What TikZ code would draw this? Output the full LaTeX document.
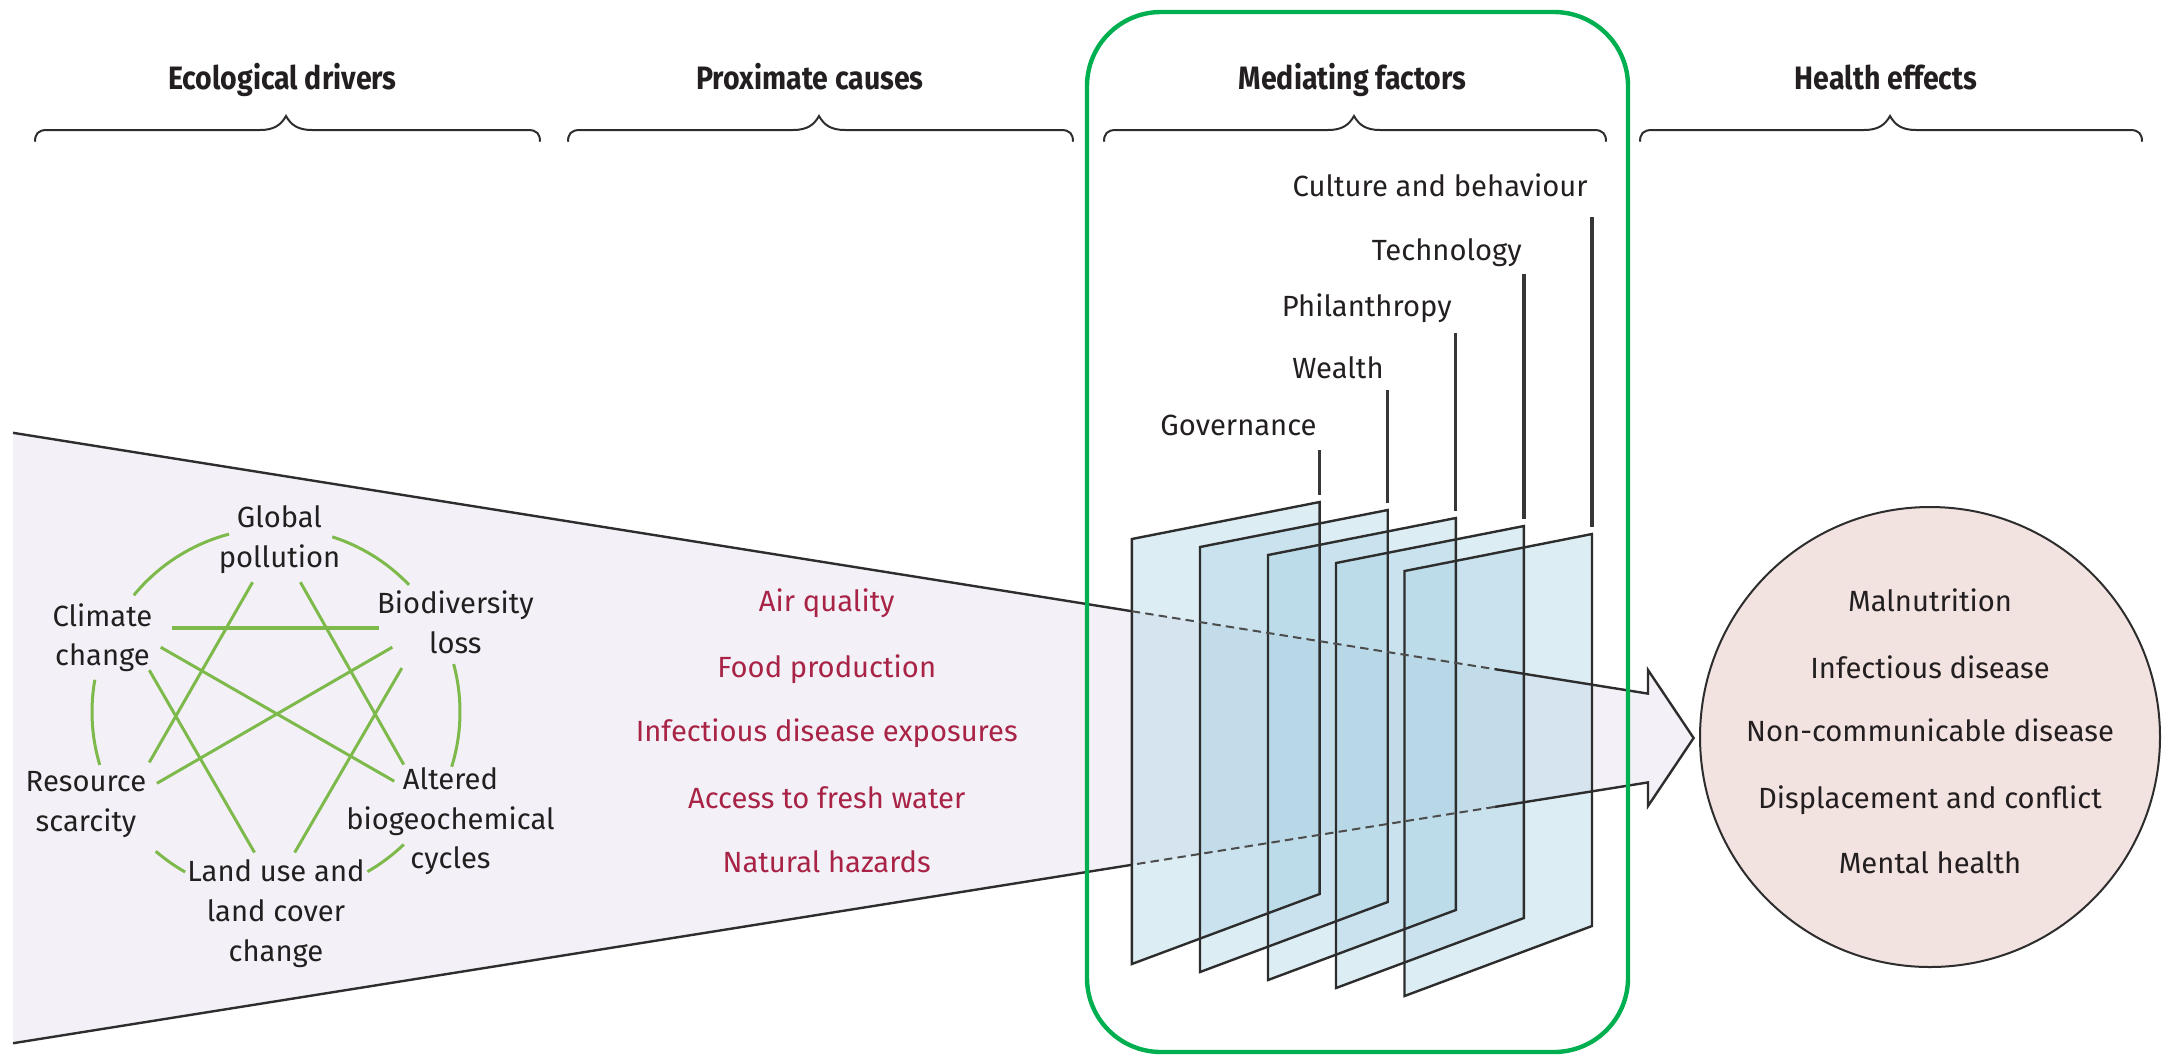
\documentclass[tikz,border=0pt]{standalone}
\usepackage{fontspec}
\setmainfont{Fira Sans}
\newfontfamily\ttlfont[FakeStretch=0.88]{Fira Sans}
\definecolor{txtc}{RGB}{35,31,32}
\definecolor{boxgreen}{RGB}{0,176,80}
\definecolor{graphgreen}{RGB}{125,185,75}
\definecolor{redtxt}{RGB}{168,35,70}
\definecolor{wedgefill}{RGB}{243,241,247}
\definecolor{healthfill}{RGB}{242,226,224}
\definecolor{panelc}{RGB}{170,210,228}
\definecolor{edgec}{RGB}{45,45,45}
\newcommand\mlines[1]{\begin{tabular}[t]{@{}c@{}}#1\end{tabular}}
\begin{document}
\begin{tikzpicture}[x=0.5pt,y=-0.5pt,
  body/.style={font=\fontsize{14.6}{19.8}\selectfont, text=txtc, inner sep=0pt, anchor=base},
  redlbl/.style={body, text=redtxt},
  ttl/.style={font=\ttlfont\bfseries\fontsize{16.2}{19}\selectfont, text=txtc, inner sep=0pt, anchor=base},
  medlbl/.style={body, anchor=base east},
  bracestyle/.style={draw=edgec, line width=1pt},
  gline/.style={draw=graphgreen, line width=1.5pt},
  wedgeline/.style={draw=edgec, line width=1.2pt},
  dashline/.style={draw=edgec!85, line width=1pt, dash pattern=on 4.2pt off 2.6pt},
  panelfill/.style={fill=panelc, fill opacity=0.4},
  paneledge/.style={draw=edgec, line width=1.2pt, line join=miter},
  stalk/.style={draw=edgec!95, line width=1.6pt}]
\useasboundingbox (0,0) rectangle (2172,1057);

% ---------- titles and braces ----------
\node[ttl] (t1) at (282.4,89) {Ecological drivers};
\node[ttl] (t2) at (810,89) {Proximate causes};
\node[ttl] (t3) at (1352.6,89) {Mediating factors};
\node[ttl] (t4) at (1886,89) {Health effects};
\newcommand\mybrace[3]{%
  \draw[bracestyle] (#1,141.7) .. controls (#1,134) and (#1+3,130) .. (#1+12,130)
    -- (#2-26,130) .. controls (#2-12,130) and (#2-5,125) .. (#2,116)
    .. controls (#2+5,125) and (#2+12,130) .. (#2+26,130)
    -- (#3-12,130) .. controls (#3-3,130) and (#3,134) .. (#3,141.7);}
\mybrace{35}{286}{540}
\mybrace{568}{819}{1073}
\mybrace{1104}{1354}{1606}
\mybrace{1640}{1890}{2142}

% ---------- wedge / arrow ----------
\coordinate (wul) at (13,432.8);
\coordinate (wud1) at (1131.8,611.2);
\coordinate (wud2) at (1494.6,669.1);
\coordinate (wus) at (1648,693.6);
\coordinate (wuh) at (1648,670);
\coordinate (wtip) at (1693.6,738);
\coordinate (wlh) at (1648,806);
\coordinate (wls) at (1648,782.4);
\coordinate (wld2) at (1494.6,806.9);
\coordinate (wld1) at (1131.8,864.8);
\coordinate (wll) at (13,1043.2);
\fill[wedgefill] (wul) -- (wus) -- (wuh) -- (wtip) -- (wlh) -- (wls) -- (wll) -- cycle;

% ---------- health effects circle ----------
\node[circle, draw=edgec, line width=1pt, fill=healthfill, minimum size=230pt, inner sep=0pt] (health) at (1930,737) {};
\node[body] (h1) at (1930,611.7) {Malnutrition};
\node[body] (h2) at (1930,678) {Infectious disease};
\node[body] (h3) at (1930,741.7) {Non-communicable disease};
\node[body] (h4) at (1930,808) {Displacement and conflict};
\node[body] (h5) at (1930,873) {Mental health};

% ---------- proximate causes ----------
\node[redlbl] (p1) at (826.7,611.7) {Air quality};
\node[redlbl] (p2) at (826.7,677.3) {Food production};
\node[redlbl] (p3) at (826.7,741.7) {Infectious disease exposures};
\node[redlbl] (p4) at (826.7,808.3) {Access to fresh water};
\node[redlbl] (p5) at (826.7,872.7) {Natural hazards};

% ---------- ecological drivers ----------
\node[body] (glob) at (279.5,527.8) {\mlines{Global\\pollution}};
\node[body] (bio) at (455.4,613.7) {\mlines{Biodiversity\\loss}};
\node[body] (clim) at (102.4,626) {\mlines{Climate\\change}};
\node[body] (res) at (86,791.7) {\mlines{Resource\\scarcity}};
\node[body] (alt) at (450.5,789.6) {\mlines{Altered\\biogeochemical\\cycles}};
\node[body] (land) at (276,881.8) {\mlines{Land use and\\land cover\\change}};

\coordinate (gc) at (276,712);
\draw[gline] (gc) ++(-104.8:184) arc[start angle=-104.8, end angle=-140.6, radius=184];
\draw[gline] (gc) ++(-43.7:184) arc[start angle=-43.7, end angle=-72.2, radius=184];
\draw[gline] (gc) ++(-169.9:184) arc[start angle=-169.9, end angle=-196.7, radius=184];
\draw[gline] (gc) ++(17.3:184) arc[start angle=17.3, end angle=-15.1, radius=184];
\draw[gline] (gc) ++(-229.2:184) arc[start angle=-229.2, end angle=-240.4, radius=184];
\draw[gline] (gc) ++(60.2:184) arc[start angle=60.2, end angle=46, radius=184];

\coordinate (clim-bio-a) at (172.2,628.3);  \coordinate (clim-bio-b) at (378.9,628.3);
\coordinate (glob-res-a) at (252.6,582.2);  \coordinate (glob-res-b) at (149.3,762.4);
\coordinate (glob-alt-a) at (300.4,582.2);  \coordinate (glob-alt-b) at (403.7,764.5);
\coordinate (bio-res-a) at (392.3,647.2);   \coordinate (bio-res-b) at (156.9,783.3);
\coordinate (bio-land-a) at (401.8,668.1);  \coordinate (bio-land-b) at (294.7,852.5);
\coordinate (clim-alt-a) at (160.7,647.2);  \coordinate (clim-alt-b) at (394.2,781.2);
\coordinate (clim-land-a) at (149.3,670.2); \coordinate (clim-land-b) at (254.5,852.5);
\draw[gline, line width=2pt] (clim-bio-a) -- (clim-bio-b);
\draw[gline] (glob-res-a) -- (glob-res-b);
\draw[gline] (glob-alt-a) -- (glob-alt-b);
\draw[gline] (bio-res-a) -- (bio-res-b);
\draw[gline] (bio-land-a) -- (bio-land-b);
\draw[gline] (clim-alt-a) -- (clim-alt-b);
\draw[gline] (clim-land-a) -- (clim-land-b);

% ---------- panels ----------
\newcommand\panelshape[6]{(#1,#3) -- (#2,#4) -- (#2,#5) -- (#1,#6) -- cycle}
\fill[panelfill] \panelshape{1131.8}{1319.6}{539}{502}{894}{964};
\fill[panelfill] \panelshape{1200}{1387.7}{547}{510}{902}{972};
\fill[panelfill] \panelshape{1268}{1455.8}{555}{518}{910}{980};
\fill[panelfill] \panelshape{1336}{1523.9}{563}{526}{918}{988};
\fill[panelfill] \panelshape{1404.5}{1592}{571}{534}{926}{996};
\draw[paneledge] \panelshape{1131.8}{1319.6}{539}{502}{894}{964};
\draw[paneledge] \panelshape{1200}{1387.7}{547}{510}{902}{972};
\draw[paneledge] \panelshape{1268}{1455.8}{555}{518}{910}{980};
\draw[paneledge] \panelshape{1336}{1523.9}{563}{526}{918}{988};
\draw[paneledge] \panelshape{1404.5}{1592}{571}{534}{926}{996};

% ---------- wedge outline ----------
\draw[wedgeline] (wul) -- (wud1);
\draw[dashline] (wud1) -- (wud2);
\draw[wedgeline] (wud2) -- (wus) -- (wuh) -- (wtip) -- (wlh) -- (wls) -- (wld2);
\draw[dashline] (wld2) -- (wld1);
\draw[wedgeline] (wld1) -- (wll);

% ---------- mediating factor labels ----------
\coordinate (s1b) at (1319.6,495);   \coordinate (s1t) at (1319.6,450);
\coordinate (s2b) at (1387.7,503);   \coordinate (s2t) at (1387.7,390);
\coordinate (s3b) at (1455.8,511);   \coordinate (s3t) at (1455.8,333);
\coordinate (s4b) at (1523.9,519);   \coordinate (s4t) at (1523.9,274);
\coordinate (s5b) at (1592,527);     \coordinate (s5t) at (1592,217);
\draw[stalk] (s1b) -- (s1t);
\draw[stalk] (s2b) -- (s2t);
\draw[stalk] (s3b) -- (s3t);
\draw[stalk] (s4b) -- (s4t);
\draw[stalk] (s5b) -- (s5t);
\node[medlbl] (m1) at (1317,435) {Governance};
\node[medlbl] (m2) at (1384,378) {Wealth};
\node[medlbl] (m3) at (1452,316.7) {Philanthropy};
\node[medlbl] (m4) at (1522,260) {Technology};
\node[medlbl] (m5) at (1588,196.7) {Culture and behaviour};

% ---------- green frame ----------
\draw[draw=boxgreen, line width=2.2pt, rounded corners=37pt] (1087,12) rectangle (1628,1052);
\end{tikzpicture}
\end{document}
